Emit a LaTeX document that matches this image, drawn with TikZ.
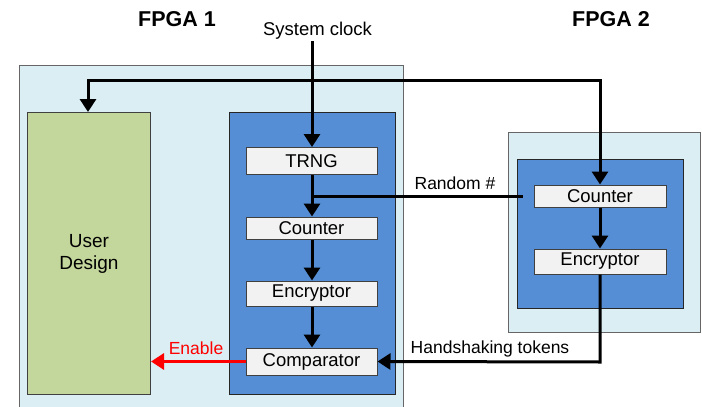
\documentclass[tikz,border=0pt]{standalone}
\usepackage{fontspec}
\setmainfont{Liberation Sans}
\usetikzlibrary{arrows.meta,calc}
\definecolor{outerbg}{HTML}{DAEEF3}
\definecolor{bluebg}{HTML}{558ED5}
\definecolor{greenbg}{HTML}{C3D69B}
\definecolor{boxbg}{HTML}{F2F2F2}
\definecolor{edgegray}{HTML}{404040}
\tikzset{
  outerbox/.style={draw=edgegray!80, fill=outerbg, line width=1pt},
  bluebox/.style={draw=black!85, fill=bluebg, line width=1pt},
  greenbox/.style={draw=edgegray, fill=greenbg, line width=1pt},
  blk/.style={draw=edgegray, fill=boxbg, line width=1pt, inner sep=0pt,
    font=\fontsize{18.5}{20}\selectfont},
  conn/.style={line width=3pt, -{Triangle[length=13pt,width=16pt]}},
  plain/.style={line width=3pt},
  lbl/.style={font=\fontsize{17.5}{19}\selectfont, inner sep=0pt},
  title/.style={font=\fontsize{21.5}{23}\selectfont\bfseries, inner sep=0pt}
}
\begin{document}
\begin{tikzpicture}[x=1pt,y=-1pt]
\useasboundingbox (0,0) rectangle (702,407);
% FPGA 1
\draw[outerbox] (19,65) rectangle (403,420);
\node[greenbox, minimum width=123pt, minimum height=282pt, anchor=north west, align=center,
  font=\fontsize{19}{22}\selectfont] (ud) at (27,112) {User\\Design};
\draw[bluebox] (229,112) rectangle (395,394);
\node[blk, minimum width=131pt, minimum height=27pt] (trng) at (311.5,161) {TRNG};
\node[blk, minimum width=131pt, minimum height=22pt] (cnt1) at (311.5,228) {Counter};
\node[blk, minimum width=131pt, minimum height=25pt] (enc1) at (311.5,293.5) {Encryptor};
\node[blk, minimum width=131pt, minimum height=27pt] (cmp) at (311.5,361.5) {Comparator};
% FPGA 2
\draw[outerbox] (508,132) rectangle (700,332);
\draw[bluebox] (517,159) rectangle (683,308);
\node[blk, minimum width=132pt, minimum height=22pt] (cnt2) at (600,196) {Counter};
\node[blk, minimum width=132pt, minimum height=25pt] (enc2) at (600,261.5) {Encryptor};
% titles and labels
\node[title] (t1) at (177,19) {FPGA 1};
\node[title] (t2) at (611,19) {FPGA 2};
\node[lbl, font=\fontsize{18.5}{20}\selectfont] (clk) at (317.5,31) {System clock};
\node[lbl] (rnd) at (455,183) {Random \#};
\node[lbl] (hs) at (490,349) {Handshaking tokens};
\node[lbl, text=red] (en) at (196,348) {Enable};
% coordinates
\coordinate (clktop) at (312,41);
\coordinate (junc) at (312,196);
\coordinate (rndend) at (523,196);
\coordinate (hsc) at (600,362);
\coordinate (loopL) at (88,80);
\coordinate (loopR) at (600,80);
% connectors
\draw[conn] (clktop) -- (trng.north -| clktop);
\draw[conn] (trng.south -| clktop) -- (cnt1.north -| clktop);
\draw[plain] (junc) -- (rndend);
\draw[conn] (cnt1.south -| clktop) -- (enc1.north -| clktop);
\draw[conn] (enc1.south -| clktop) -- (cmp.north -| clktop);
\draw[conn, red] (cmp.west) -- (ud.east |- cmp.west);
\draw[conn] (enc2.south) -- (hsc) -- (cmp.east);
\draw[line width=3pt, {Triangle[length=13pt,width=16pt]}-{Triangle[length=13pt,width=16pt]}]
  (ud.north -| loopL) -- (loopL) -- (loopR) -- (cnt2.north);
\draw[conn] (cnt2.south) -- (enc2.north);
\end{tikzpicture}
\end{document}
